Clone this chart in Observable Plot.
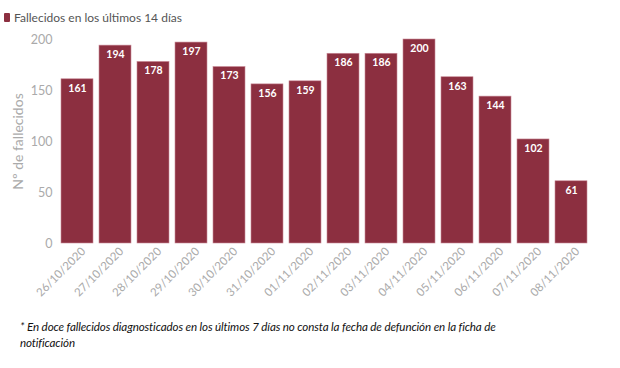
<!DOCTYPE html>
<html>
<head>
<meta charset="utf-8">
<script src="https://cdn.jsdelivr.net/npm/d3@7"></script>
<script src="https://cdn.jsdelivr.net/npm/@observablehq/plot@0.6"></script>
<style>
  html, body { margin: 0; padding: 0; background: #fff; }
  body { width: 620px; height: 368px; position: relative; overflow: hidden; font-family: Lato, "Open Sans", sans-serif; }
  #legend { position: absolute; left: 4px; top: 10px; font-size: 12px; color: #555; display: flex; align-items: center; }
  #legend .sw { width: 6px; height: 9px; background: #8c2f40; margin-right: 4px; border-radius: 1px; }
  #chart { position: absolute; left: 0; top: 28px; }
  #note { position: absolute; left: 20px; top: 319px; font-size: 11.6px; letter-spacing: -0.12px; font-style: italic; color: #111; line-height: 16px; font-family: Lato, "Open Sans", sans-serif; }
</style>
</head>
<body>
<div id="legend"><span class="sw"></span><span>Fallecidos en los últimos 14 días</span></div>
<div id="chart"></div>
<div id="note">* En doce fallecidos diagnosticados en los últimos 7 días no consta la fecha de defunción en la ficha de<br>notificación</div>
<script>
const fechas = ["26/10/2020","27/10/2020","28/10/2020","29/10/2020","30/10/2020","31/10/2020","01/11/2020","02/11/2020","03/11/2020","04/11/2020","05/11/2020","06/11/2020","07/11/2020","08/11/2020"];
const fallecidos = [161,194,178,197,173,156,159,186,186,200,163,144,102,61];
const yTicks = [0,50,100,150,200];

const data = fechas.map((f, i) => ({fecha: f, valor: fallecidos[i]}));

const chart = Plot.plot({
  width: 620,
  height: 275,
  marginTop: 11,
  marginBottom: 60,
  marginLeft: 58,
  marginRight: 30,
  style: {fontFamily: "Lato, 'Open Sans', sans-serif", background: "#fff"},
  x: {domain: fechas, paddingInner: 0.16, paddingOuter: 0.08, label: null},
  y: {domain: [0, 200]},
  marks: [
    Plot.barY(data, {x: "fecha", y: "valor", fill: "#8c2f40", stroke: "#c98a96", strokeWidth: 0.6}),
    Plot.text(data, {x: "fecha", y: "valor", text: d => String(d.valor), dy: 9, fill: "white", fontWeight: "bold", fontSize: 10.5}),
    Plot.axisX({tickRotate: -45, tickSize: 0, tickPadding: 4, dx: 6, dy: 2, fill: "#aaa", fontSize: 11.5, label: null}),
    Plot.axisY({ticks: yTicks, tickSize: 0, tickPadding: 6, fill: "#aaa", fontSize: 12.5, label: null}),
    Plot.axisY({ticks: [], label: "Nº de fallecidos", labelAnchor: "center", labelArrow: "none", labelOffset: 45, fill: "#aaa", fontSize: 14, tickSize: 0})
  ]
});
document.getElementById("chart").appendChild(chart);
</script>
</body>
</html>
